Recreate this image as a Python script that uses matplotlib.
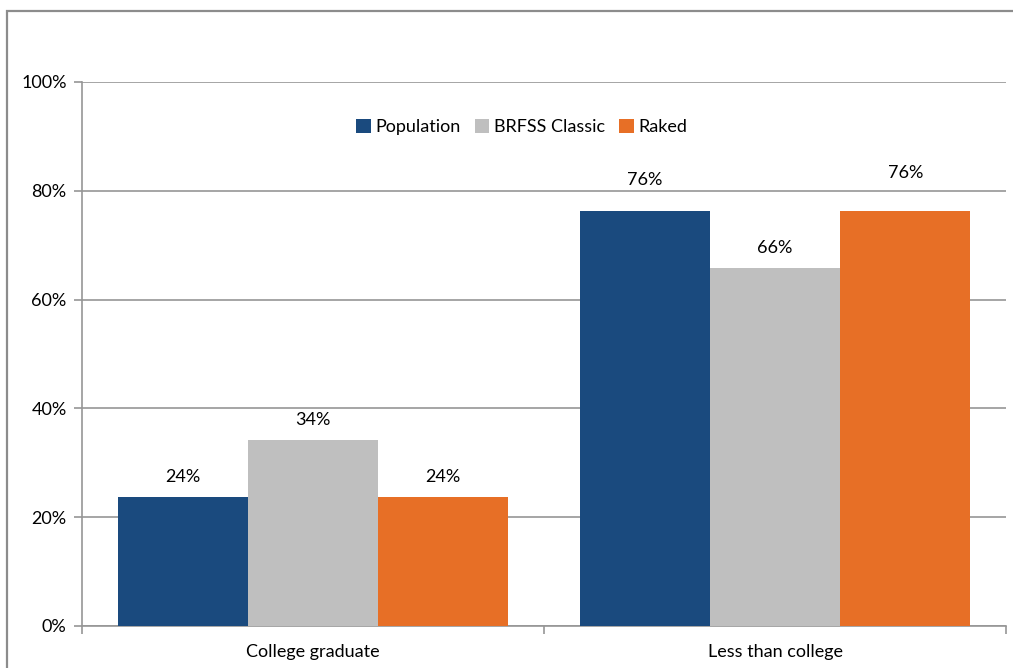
import matplotlib.pyplot as plt
import numpy as np
from matplotlib.patches import Rectangle

# data
categories = ["College graduate", "Less than college"]
series_names = ["Population", "BRFSS Classic", "Raked"]
population = [23.7, 76.3]
brfss_classic = [34.2, 65.8]
raked = [23.7, 76.3]
value_labels = [["24%", "76%"], ["34%", "66%"], ["24%", "76%"]]
y_ticks = [0, 20, 40, 60, 80, 100]

COLORS = ["#1a4a7e", "#bfbfbf", "#e76f26"]
GRID_COLOR = "#969696"
# label distance above bar top, in pixels (the 76% labels sit higher in the original)
LABEL_GAP = [[20, 31], [20, 20], [20, 38]]

plt.rcParams['font.family'] = ['Lato', 'DejaVu Sans']

fig = plt.figure(figsize=(10.13, 6.68), dpi=100)
# outer chart frame
fig.patches.append(Rectangle((7 / 1013, -0.05), 1.1, (668 - 11) / 668 + 0.05,
                             transform=fig.transFigure, fill=False,
                             edgecolor="#8c8c8c", linewidth=1.6))

ax = fig.add_axes([82 / 1013, 42 / 668, (1006 - 82) / 1013, (626 - 82) / 668])

x = np.arange(len(categories))
bar_width = 0.282
values = [population, brfss_classic, raked]
for i, (name, vals) in enumerate(zip(series_names, values)):
    pos = x + (i - 1) * bar_width
    ax.bar(pos, vals, width=bar_width, color=COLORS[i], label=name, zorder=3)
    for j, (p, v, lab) in enumerate(zip(pos, vals, value_labels[i])):
        ax.annotate(lab, (p, v), xytext=(0, LABEL_GAP[i][j]), textcoords="offset pixels",
                    ha="center", va="center", fontsize=13)

ax.set_xlim(-0.5, 1.5)
ax.set_ylim(0, 100)
ax.set_yticks(y_ticks)
ax.set_yticklabels([f"{t}%" for t in y_ticks], fontsize=13)
ax.yaxis.grid(True, color=GRID_COLOR, linewidth=1.2, zorder=0)
ax.set_axisbelow(True)

# category boundary ticks on x axis
ax.set_xticks([-0.5, 0.5, 1.5])
ax.set_xticklabels([])
ax.set_xticks(x, minor=True)
ax.set_xticklabels(categories, minor=True, fontsize=13)
ax.tick_params(axis="x", which="minor", length=0, pad=13)
ax.tick_params(axis="x", which="major", length=6, color=GRID_COLOR, width=1.2)
ax.tick_params(axis="y", length=6, color=GRID_COLOR, width=1.2, pad=5)

for side in ["top", "right"]:
    ax.spines[side].set_visible(False)
for side in ["left", "bottom"]:
    ax.spines[side].set_color(GRID_COLOR)
    ax.spines[side].set_linewidth(1.2)

ax.legend(loc="center", bbox_to_anchor=(0.476, (626 - 127) / 544), ncol=3, frameon=False,
          fontsize=13, handlelength=0.8, handleheight=0.8, handletextpad=0.25,
          columnspacing=0.8)

fig.savefig("out.png", dpi=100)
